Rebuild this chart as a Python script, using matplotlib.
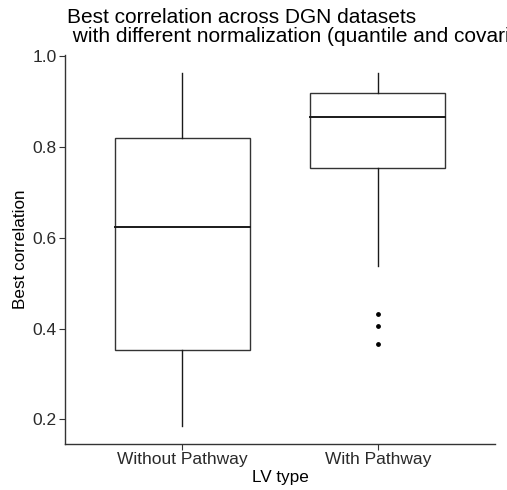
import matplotlib
matplotlib.use("Agg")
import matplotlib.pyplot as plt
from matplotlib.patches import Rectangle

plt.rcParams['font.family'] = ['Liberation Sans', 'DejaVu Sans']

categories = ["Without Pathway", "With Pathway"]
q1 = [0.352, 0.754]
median = [0.624, 0.865]
q3 = [0.820, 0.918]
whisk_lo = [0.185, 0.537]
whisk_hi = [0.963, 0.963]
outliers = [[], [0.432, 0.405, 0.366]]
yticks = [0.2, 0.4, 0.6, 0.8, 1.0]

W, H = 507, 490
fig = plt.figure(figsize=(W/100, H/100), dpi=100)
ax = fig.add_axes([65/W, 1-444/H, (495-65)/W, (444-55)/H])

box_w = 0.69
for i, cat in enumerate(categories):
    x = i + 1
    ax.add_patch(Rectangle((x - box_w/2, q1[i]), box_w, q3[i]-q1[i],
                           facecolor='white', edgecolor='#333333', lw=1.0, zorder=2))
    ax.plot([x - box_w/2, x + box_w/2], [median[i]]*2, color='#1a1a1a', lw=1.4, zorder=3)
    ax.plot([x, x], [q3[i], whisk_hi[i]], color='#1a1a1a', lw=1.0)
    ax.plot([x, x], [whisk_lo[i], q1[i]], color='#1a1a1a', lw=1.0)
    if outliers[i]:
        ax.scatter([x]*len(outliers[i]), outliers[i], s=6, color='black', zorder=3)

ax.set_xlim(0.4, 2.6)
ax.set_ylim(0.146, 1.002)
ax.set_xticks([1, 2])
ax.set_xticklabels(categories)
ax.set_yticks(yticks)
ax.set_yticklabels([f"{v:.1f}" for v in yticks])
for s in ['top', 'right']:
    ax.spines[s].set_visible(False)
for s in ['left', 'bottom']:
    ax.spines[s].set_color('#333333')
    ax.spines[s].set_linewidth(1.0)
ax.tick_params(axis='both', length=4, width=0.8, color='#333333',
               labelsize=12.5, labelcolor='#2a2a2a', pad=2)
ax.set_xlabel("LV type", fontsize=12.3, labelpad=2)
ax.set_ylabel("Best correlation", fontsize=12.3, labelpad=3)

fig.text(67/W, 1-8/H, "Best correlation across DGN datasets\n with different normalization (quantile and covariates)",
         ha='left', va='top', fontsize=15, linespacing=1.0)

fig.savefig("out.png", dpi=100)
